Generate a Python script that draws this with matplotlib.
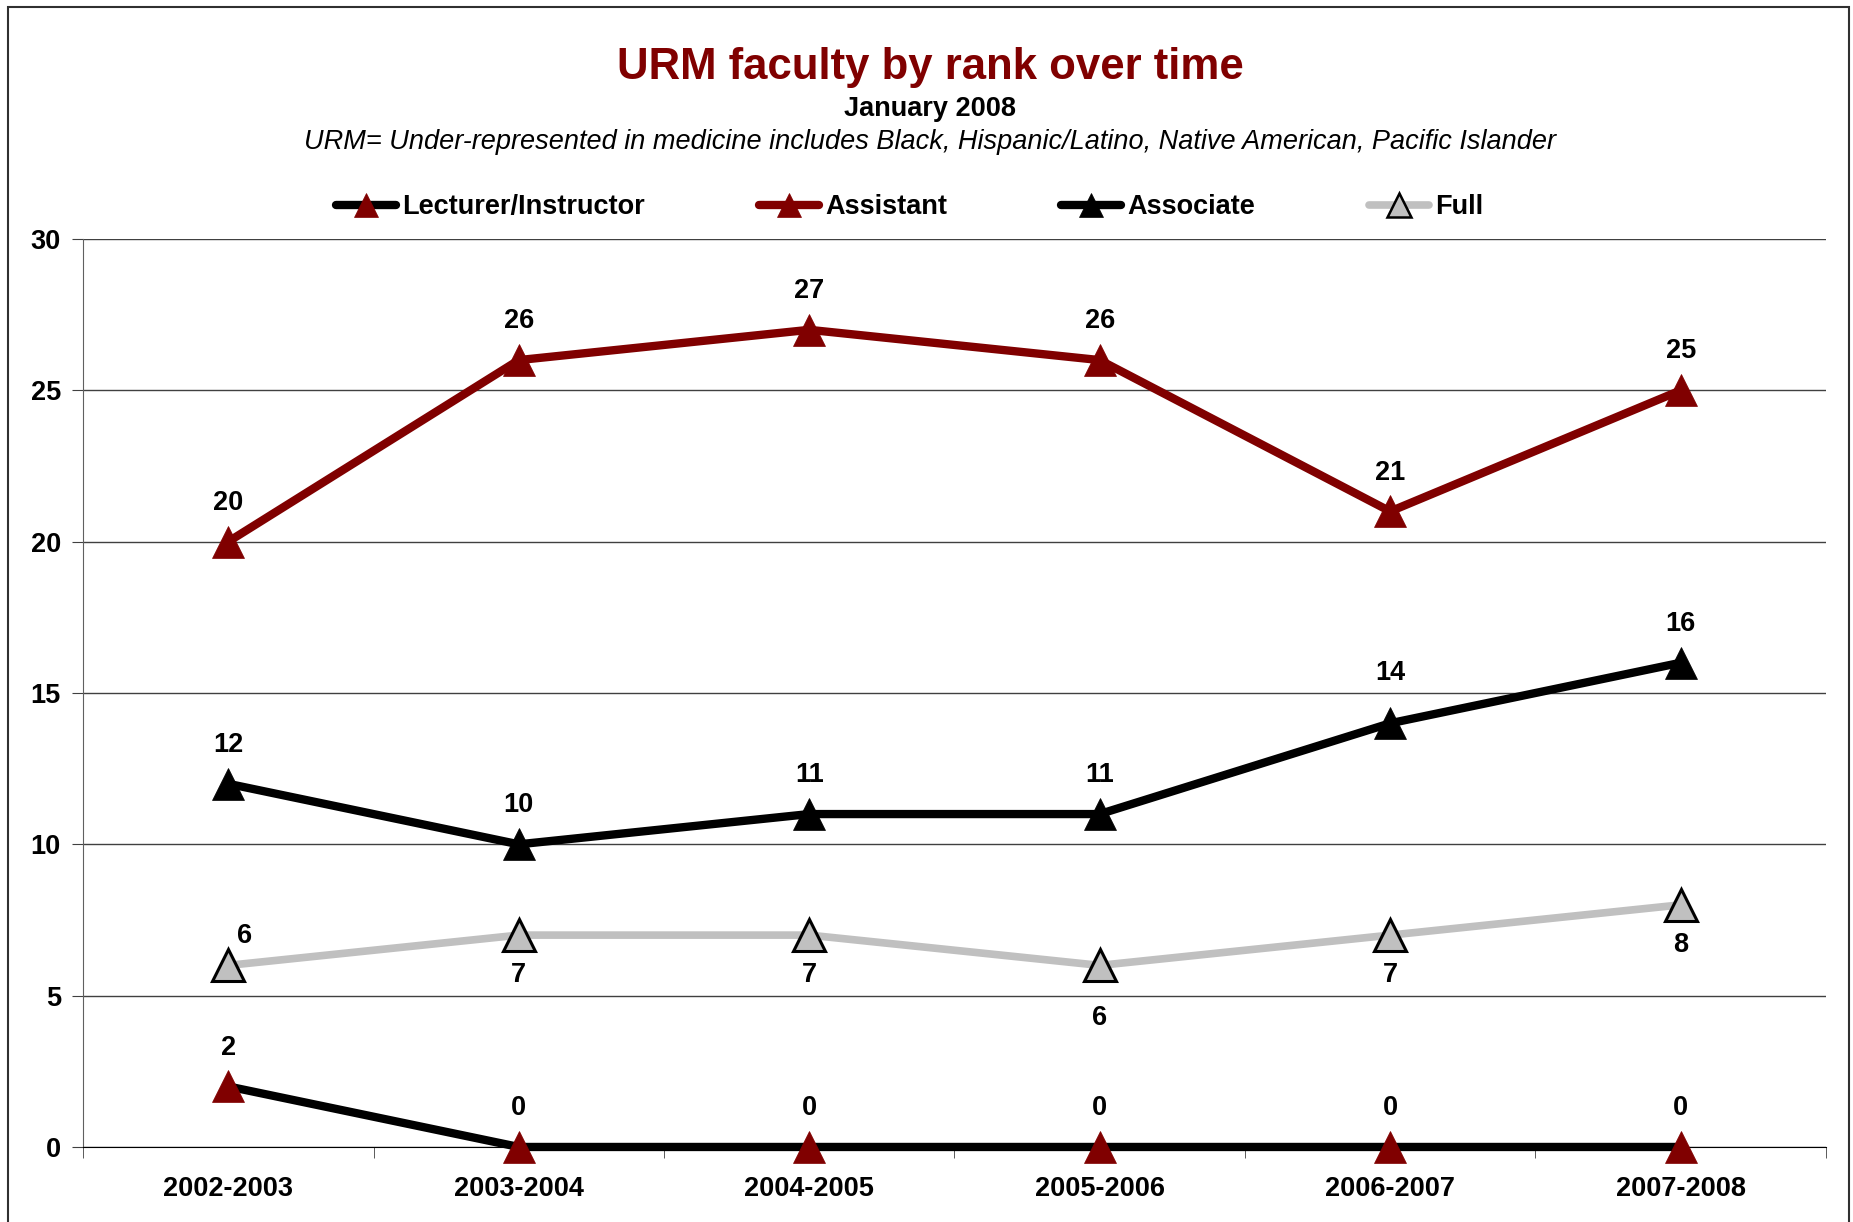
import matplotlib
matplotlib.use('Agg')
import matplotlib.pyplot as plt
from matplotlib.patches import Rectangle
from matplotlib.lines import Line2D
import numpy as np

plt.rcParams['font.family'] = ['Liberation Sans', 'DejaVu Sans']

years = ['2002-2003', '2003-2004', '2004-2005', '2005-2006', '2006-2007', '2007-2008']
lecturer = [2, 0, 0, 0, 0, 0]
assistant = [20, 26, 27, 26, 21, 25]
associate = [12, 10, 11, 11, 14, 16]
full = [6, 7, 7, 6, 7, 8]

DARKRED = '#800000'
GREY = '#c0c0c0'
FS = 19.5

fig = plt.figure(figsize=(18.53, 12.22), dpi=100)
ax = fig.add_axes([0.0448, 0.0614, 0.9406, 0.743])

x = np.arange(len(years))

# line styles: (values, name, line colour, marker face, marker edge, lw)
series = [
    (lecturer, 'Lecturer/Instructor', 'black', DARKRED, DARKRED, 6),
    (assistant, 'Assistant', DARKRED, DARKRED, DARKRED, 6),
    (associate, 'Associate', 'black', 'black', 'black', 6),
    (full, 'Full', GREY, GREY, 'black', 5.5),
]

handles = []
for vals, name, lc, mfc, mec, lw in series:
    ax.plot(x, vals, color=lc, lw=lw, marker='^', ms=23, mfc=mfc, mec=mec,
            mew=2.2 if name == 'Full' else 0.5, zorder=3, clip_on=False)
    handles.append(Line2D([], [], color=lc, lw=lw, marker='^', ms=17, mfc=mfc,
                          mec=mec, mew=1.8 if name == 'Full' else 0.5,
                          solid_capstyle='round'))

lab = dict(ha='center', va='center', fontsize=FS, fontweight='bold',
           textcoords='offset points')

for i, v in enumerate(lecturer):
    ax.annotate(str(v), (x[i], v), xytext=(0, 28), **lab)
for i, v in enumerate(assistant):
    ax.annotate(str(v), (x[i], v), xytext=(0, 28), **lab)
for i, v in enumerate(associate):
    dy = 36 if i == 4 else 28
    ax.annotate(str(v), (x[i], v), xytext=(0, dy), **lab)
for i, v in enumerate(full):
    if i == 0:
        off = (12, 21)
    elif i == 3:
        off = (0, -38)
    else:
        off = (0, -29)
    ax.annotate(str(v), (x[i], v), xytext=off, **lab)

ax.set_xlim(-0.5, 5.5)
ax.set_ylim(0, 30)
ax.set_yticks(range(0, 31, 5))
ax.yaxis.grid(True, color='#404040', lw=1)
ax.set_axisbelow(True)
ax.set_xticks(x)
ax.set_xticklabels(years, fontsize=FS, fontweight='bold')
ax.set_xticks(np.arange(-0.5, 6, 1), minor=True)
ax.tick_params(axis='x', which='major', length=0, pad=21)
ax.tick_params(axis='x', which='minor', length=8, color='#404040', direction='out')
ax.tick_params(axis='y', length=8, color='#404040', pad=8, labelsize=FS)
for t in ax.get_yticklabels():
    t.set_fontweight('bold')
for s in ['top', 'right']:
    ax.spines[s].set_visible(False)
ax.spines['left'].set_color('#606060')
ax.spines['bottom'].set_color('black')

fig.text(0.502, 0.945, 'URM faculty by rank over time', ha='center', va='center',
         fontsize=31.5, fontweight='bold', color=DARKRED)
fig.text(0.502, 0.911, 'January 2008', ha='center', va='center',
         fontsize=FS, fontweight='bold')
fig.text(0.502, 0.884, 'URM= Under-represented in medicine includes Black, Hispanic/Latino, '
         'Native American, Pacific Islander', ha='center', va='center',
         fontsize=FS, style='italic')

fig.legend(handles, [s[1] for s in series], loc='center', ncol=4,
           bbox_to_anchor=(0.491, 1 - 207 / 1222), frameon=False,
           prop=dict(size=FS, weight='bold'), handlelength=2.2,
           handletextpad=0.25, columnspacing=4.2)

fig.patches.append(Rectangle((0.0043, -0.05), 0.9935, 1.0443, transform=fig.transFigure,
                             fill=False, ec='#303030', lw=1.5))

fig.savefig('out.png', dpi=100)
